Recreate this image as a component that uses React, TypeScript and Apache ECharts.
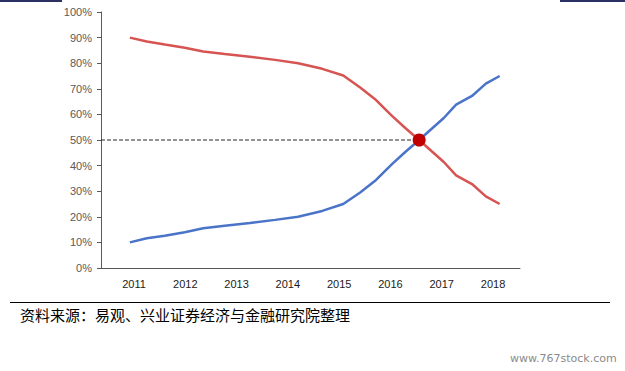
import React, { useEffect, useRef } from "react";
import * as echarts from "echarts";

const xYears = [2010.92, 2011.25, 2011.6, 2011.99, 2012.35, 2012.77, 2013.26, 2013.75, 2014.2, 2014.67, 2015.08, 2015.41, 2015.72, 2016.03, 2016.3, 2016.56, 2016.81, 2017.04, 2017.28, 2017.59, 2017.86, 2018.13];
const redValues = [90, 88.5, 87.3, 86, 84.6, 83.6, 82.5, 81.3, 80, 77.8, 75.2, 70.5, 65.6, 59.4, 54.5, 50, 45.5, 41.4, 36.2, 32.8, 28, 25];
const blueValues = [10, 11.6, 12.6, 14, 15.5, 16.5, 17.6, 18.8, 20, 22.3, 25, 29.5, 34.4, 40.6, 45.5, 50, 54.5, 58.6, 63.8, 67.2, 72, 75];
const yearLabels = [2011, 2012, 2013, 2014, 2015, 2016, 2017, 2018];
const crossPoint = [2016.56, 50];
const sourceText = "资料来源：易观、兴业证券经济与金融研究院整理";
const watermark = "www.767stock.com";

export default function App() {
  const ref = useRef<HTMLDivElement>(null);
  useEffect(() => {
    if (!ref.current) return;
    const chart = echarts.init(ref.current, null, { renderer: "svg" });
    const xMin = 2010.357;
    const xMax = 2018.526;
    chart.setOption({
      animation: false,
      backgroundColor: "#ffffff",
      grid: { left: 101, top: 12, right: 105, bottom: 103 },
      xAxis: {
        type: "value",
        min: xMin,
        max: xMax,
        axisLine: { show: true, lineStyle: { color: "#595959", width: 1 } },
        axisTick: { show: false },
        splitLine: { show: false },
        axisLabel: {
          customValues: yearLabels,
          formatter: (v: number) => String(Math.round(v)),
          color: "#1a1a1a",
          fontSize: 11,
          fontFamily: "Arial, Liberation Sans, sans-serif",
          margin: 10,
        },
      },
      yAxis: {
        type: "value",
        min: 0,
        max: 100,
        interval: 10,
        axisLine: { show: true, lineStyle: { color: "#595959", width: 1 } },
        axisTick: { show: true, inside: false, length: 4, lineStyle: { color: "#595959" } },
        splitLine: { show: false },
        axisLabel: {
          formatter: "{value}%",
          color: "#595959",
          fontSize: 11,
          fontFamily: "Arial, Liberation Sans, sans-serif",
          margin: 9,
        },
      },
      series: [
        {
          type: "line",
          data: xYears.map((x, i) => [x, redValues[i]]),
          showSymbol: false,
          lineStyle: { color: "#d65452", width: 2.5 },
          z: 2,
        },
        {
          type: "line",
          data: xYears.map((x, i) => [x, blueValues[i]]),
          showSymbol: false,
          lineStyle: { color: "#4a74c8", width: 2.5 },
          z: 2,
        },
        {
          type: "line",
          data: [[xMin, crossPoint[1]], crossPoint],
          showSymbol: false,
          lineStyle: { color: "#262626", width: 1, type: [4, 2] },
          z: 1,
        },
        {
          type: "scatter",
          data: [crossPoint],
          symbolSize: 13,
          itemStyle: { color: "#c00000", opacity: 1 },
          z: 5,
        },
      ],
      graphic: [
        { type: "rect", shape: { x: 0, y: 0, width: 62, height: 2 }, style: { fill: "#2b3163" } },
        { type: "rect", shape: { x: 560, y: 0, width: 65, height: 2 }, style: { fill: "#2b3163" } },
        { type: "line", shape: { x1: 10, y1: 302.5, x2: 610, y2: 302.5 }, style: { stroke: "#000000", lineWidth: 1 } },
        {
          type: "text",
          x: 20,
          y: 314,
          style: {
            text: sourceText,
            fontSize: 15,
            fontFamily: "Noto Sans CJK SC",
            fill: "#000000",
            verticalAlign: "middle",
          },
        },
        {
          type: "text",
          x: 510,
          y: 358,
          style: {
            text: watermark,
            fontSize: 11,
            fontFamily: "DejaVu Sans, sans-serif",
            fill: "#8a8a8a",
            verticalAlign: "middle",
          },
        },
      ],
    });
    return () => chart.dispose();
  }, []);
  return <div ref={ref} style={{ position: "fixed", left: 0, top: 0, width: 625, height: 371 }} />;
}
